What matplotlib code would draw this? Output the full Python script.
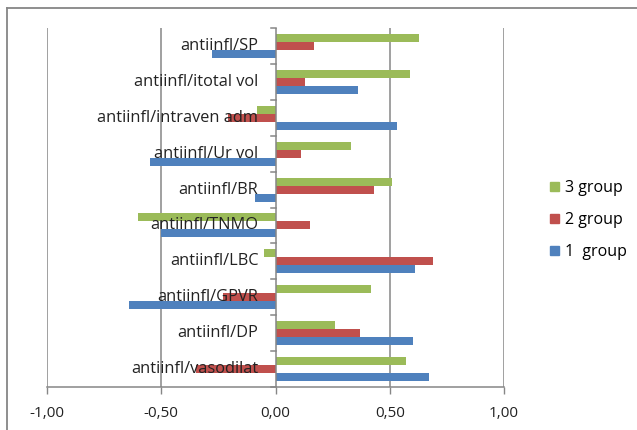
import numpy as np
import matplotlib.pyplot as plt
from matplotlib.lines import Line2D
from matplotlib.patches import Patch

# categories from bottom to top
categories = ['antiinfl/vasodilat', 'antiinfl/DP', 'antiinfl/GPVR', 'antiinfl/LBC',
              'antiinfl/TNMO', 'antiinfl/BR', 'antiinfl/Ur vol', 'antiinfl/intraven adm',
              'antiinfl/itotal vol', 'antiinfl/SP']

group1 = [0.67, 0.60, -0.64, 0.61, -0.50, -0.09, -0.55, 0.53, 0.36, -0.28]
group2 = [-0.35, 0.37, -0.23, 0.69, 0.15, 0.43, 0.11, -0.21, 0.13, 0.17]
group3 = [0.57, 0.26, 0.42, -0.05, -0.60, 0.51, 0.33, -0.08, 0.59, 0.63]

series_names = ['1  group', '2 group', '3 group']
colors = ['#4F81BD', '#C0504D', '#9BBB59']
grid_col = '#868686'

plt.rcParams['font.family'] = ['Open Sans', 'DejaVu Sans']

fig = plt.figure(figsize=(6.37, 4.30), dpi=100)
ax = fig.add_axes([47 / 637, 1 - 387 / 430, (504 - 47) / 637, (387 - 28) / 430])

y = np.arange(len(categories))
h = 0.222
for i, (vals, col) in enumerate(zip([group1, group2, group3], colors)):
    ax.barh(y + (i - 1) * h, vals, height=h, color=col, zorder=3)

ax.set_xlim(-1, 1)
ax.set_ylim(-0.5, len(categories) - 0.5)
ax.set_xticks([-1, -0.5, 0, 0.5, 1])
ax.set_xticklabels(['-1,00', '-0,50', '0,00', '0,50', '1,00'], fontsize=11, color='#222222')
ax.tick_params(axis='x', length=5, color=grid_col, width=1, pad=9)

# vertical gridlines
for gx in [-1, -0.5, 0.5, 1]:
    ax.axvline(gx, color=grid_col, lw=1.1, zorder=1)

for s in ['top', 'right', 'left']:
    ax.spines[s].set_visible(False)
ax.spines['bottom'].set_color(grid_col)
ax.spines['bottom'].set_linewidth(1.1)

# category axis at x = 0 with tick marks between categories
ax.set_yticks([])
ax.axvline(0, color=grid_col, lw=1.1, zorder=4)
for b in np.arange(-0.5, len(categories), 1.0):
    ax.plot([-0.018, 0], [b, b], color=grid_col, lw=1.1, zorder=4, clip_on=False)

for yi, name in zip(y, categories):
    ax.text(-0.075, yi, name, ha='right', va='center', fontsize=11.8,
            color='#222222', zorder=5)

handles = [Patch(color=colors[2]), Patch(color=colors[1]), Patch(color=colors[0])]
fig.legend(handles, [series_names[2], series_names[1], series_names[0]],
           loc='center left', bbox_to_anchor=(536 / 637, 1 - 220 / 430),
           frameon=False, fontsize=11.5, handlelength=0.55, handleheight=0.55,
           handletextpad=0.35, labelspacing=1.0)

# chart area border
fig.add_artist(Line2D([7 / 637, 1], [1 - 8 / 430, 1 - 8 / 430], color=grid_col, lw=1.3))
fig.add_artist(Line2D([7 / 637, 7 / 637], [0, 1 - 8 / 430], color=grid_col, lw=1.3))

fig.savefig('out.png', dpi=100)
